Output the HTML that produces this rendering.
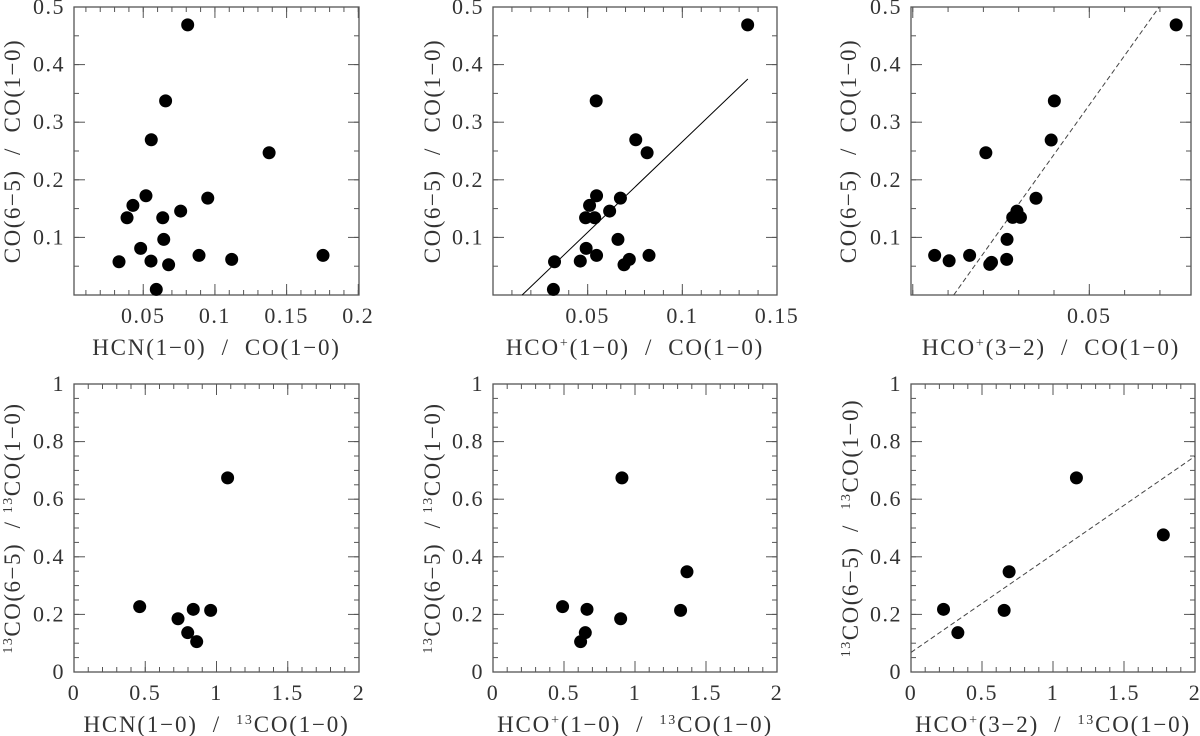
<!DOCTYPE html>
<html><head><meta charset="utf-8"><style>
html,body{margin:0;padding:0;background:#fff;}
svg{display:block;font-family:"Liberation Serif",serif;}
text{white-space:pre;}
</style></head><body>
<svg id="fig" width="1200" height="736" viewBox="0 0 1200 736" xmlns="http://www.w3.org/2000/svg"></svg>
<script>
// Panel 1: HCN/CO vs CO(6-5)/CO(1-0)
const p1x = [0.0810,0.0656,0.0556,0.1378,0.0519,0.0428,0.0950,0.0387,0.0636,0.0761,0.0643,0.0482,0.0331,0.0554,0.0677,0.0889,0.1117,0.1754,0.0591];
const p1y = [0.469,0.337,0.2695,0.247,0.1723,0.1555,0.1682,0.1341,0.1341,0.1457,0.0965,0.0809,0.0577,0.0589,0.0525,0.0687,0.0618,0.0687,0.0097];
// Panel 2: HCO+(1-0)/CO
const p2x = [0.1345,0.0545,0.0754,0.0814,0.0547,0.0510,0.0673,0.0489,0.0537,0.0616,0.0660,0.0492,0.0325,0.0461,0.0692,0.0547,0.0720,0.0824,0.0319];
const p2y = [0.469,0.337,0.2695,0.247,0.1723,0.1555,0.1682,0.1341,0.1341,0.1457,0.0965,0.0809,0.0577,0.0589,0.0525,0.0687,0.0618,0.0687,0.0097];
const p2fitX = [0.0154,0.1346];
const p2fitY = [0.0,0.375];
// Panel 3: HCO+(3-2)/CO
const p3x = [0.0062,0.0103,0.0161,0.0207,0.0218,0.0223,0.0266,0.0267,0.0283,0.0295,0.0305,0.0349,0.0392,0.0401,0.0746];
const p3y = [0.0688,0.0594,0.0688,0.247,0.0531,0.0566,0.0618,0.0965,0.1347,0.1457,0.1347,0.168,0.269,0.337,0.469];
const p3fitX = [0.0116,0.0698];
const p3fitY = [0.0,0.5];
// Panel 4: HCN/13CO
const p4x = [0.461,0.730,0.837,0.959,0.798,0.861,1.078];
const p4y = [0.227,0.185,0.2176,0.214,0.1366,0.1053,0.674];
// Panel 5: HCO+(1-0)/13CO
const p5x = [0.490,0.662,0.650,0.617,0.899,0.908,1.321,1.366];
const p5y = [0.227,0.2176,0.1366,0.1053,0.185,0.674,0.214,0.348];
// Panel 6: HCO+(3-2)/13CO
const p6x = [0.229,0.330,0.656,0.691,1.165,1.777];
const p6y = [0.2176,0.1366,0.214,0.348,0.674,0.476];
const p6fitX = [0.0,2.0];
const p6fitY = [0.068,0.749];
// Tick labels
const topYTicks = ["0.1","0.2","0.3","0.4","0.5"];
const botYTicks = ["0","0.2","0.4","0.6","0.8","1"];
const p1XTicks = ["0.05","0.1","0.15","0.2"];
const p2XTicks = ["0.05","0.1","0.15"];
const p3XTicks = ["0.05"];
const botXTicks = ["0","0.5","1","1.5","2"];

const NS="http://www.w3.org/2000/svg";
const svg=document.getElementById('fig');
const FC="#555", TC="#333";
function mk(tag,attrs,parent){const e=document.createElementNS(NS,tag);for(const k in attrs)e.setAttribute(k,attrs[k]);(parent||svg).appendChild(e);return e;}

function panel(cfg){
  const g=mk('g',{});
  
  
  const L=cfg.box[0],T=cfg.box[1],R=cfg.box[2],B=cfg.box[3];
  const sx=v=>L+(v-cfg.xd[0])/(cfg.xd[1]-cfg.xd[0])*(R-L);
  const sy=v=>B-(v-cfg.yd[0])/(cfg.yd[1]-cfg.yd[0])*(B-T);
  const fr=mk('rect',{x:L,y:T,width:R-L,height:B-T,fill:'none',stroke:FC,'stroke-width':1.3},g);
  
  
  const eps=1e-9;
  function xt(step,len){for(let v=Math.ceil((cfg.xd[0]-eps)/step)*step;v<=cfg.xd[1]+eps;v+=step){const x=sx(v);if(x<L+0.5||x>R-0.5)continue;mk('line',{x1:x,y1:B,x2:x,y2:B-len,stroke:FC,'stroke-width':1},g);mk('line',{x1:x,y1:T,x2:x,y2:T+len,stroke:FC,'stroke-width':1},g);}}
  function yt(step,len){for(let v=Math.ceil((cfg.yd[0]-eps)/step)*step;v<=cfg.yd[1]+eps;v+=step){const y=sy(v);if(y<T+0.5||y>B-0.5)continue;mk('line',{x1:L,y1:y,x2:L+len,y2:y,stroke:FC,'stroke-width':1},g);mk('line',{x1:R,y1:y,x2:R-len,y2:y,stroke:FC,'stroke-width':1},g);}}
  xt(cfg.xminor,5);xt(cfg.xmajor,11);yt(cfg.yminor,5);yt(cfg.ymajor,11);
  cfg.xticks.forEach(s=>{const t=mk('text',{x:sx(parseFloat(s)),y:B+28,'text-anchor':'middle','font-size':22,'letter-spacing':1.5,fill:TC},g);t.textContent=s;
    
    });
  cfg.yticks.forEach(s=>{const t=mk('text',{x:L-9,y:sy(parseFloat(s))+7,'text-anchor':'end','font-size':22,'letter-spacing':1.5,fill:TC},g);t.textContent=s;
    
    });
  if(cfg.fx){const ln=mk('line',{x1:sx(cfg.fx[0]),y1:sy(cfg.fy[0]),x2:sx(cfg.fx[1]),y2:sy(cfg.fy[1]),stroke:cfg.dash?'#444':'#000','stroke-width':1,'stroke-dasharray':cfg.dash?'5,3':'none'},g);
    
    }
  cfg.px.forEach((v,i)=>{const c=mk('circle',{cx:sx(v),cy:sy(cfg.py[i]),r:6.5,fill:'#000'},g);
    
    });
  const xl=mk('text',{x:(L+R)/2,y:B+60,'text-anchor':'middle','font-size':23,'letter-spacing':1.8,fill:TC},g);
  xl.innerHTML=cfg.xlab;
  
  
  const yl=mk('text',{x:0,y:0,'text-anchor':'middle','font-size':23,'letter-spacing':1.5,fill:TC,transform:`translate(${cfg.ylx},${(T+B)/2}) rotate(-90)`},g);
  yl.innerHTML=cfg.ylab;
  
  
}
const sup=s=>`<tspan font-size="14" dy="-8">${s}</tspan><tspan dy="8">`;
const topYL='CO(6−5)  /  CO(1−0)';
const botYL=`${sup('13')}CO(6−5)</tspan>  / ${sup('13')}CO(1−0)</tspan>`;
panel({name:'panel-hcn-co',box:[74,7,359,295],xd:[0.0017,0.2005],yd:[0,0.5],xminor:0.01,xmajor:0.05,yminor:0.05,ymajor:0.1,xticks:p1XTicks,yticks:topYTicks,px:p1x,py:p1y,xlab:'HCN(1−0)  /  CO(1−0)',ylab:topYL,ylx:20});
panel({name:'panel-hcop10-co',box:[493,7,777,295],xd:[0,0.15],yd:[0,0.5],xminor:0.01,xmajor:0.05,yminor:0.05,ymajor:0.1,xticks:p2XTicks,yticks:topYTicks,px:p2x,py:p2y,fx:p2fitX,fy:p2fitY,xlab:`HCO${sup('+')}(1−0)</tspan>  /  CO(1−0)`,ylab:topYL,ylx:440});
panel({name:'panel-hcop32-co',box:[911,7,1191,295],xd:[-0.0005,0.0788],yd:[0,0.5],xminor:0.01,xmajor:0.05,yminor:0.05,ymajor:0.1,xticks:p3XTicks,yticks:topYTicks,px:p3x,py:p3y,fx:p3fitX,fy:p3fitY,dash:true,xlab:`HCO${sup('+')}(3−2)</tspan>  /  CO(1−0)`,ylab:topYL,ylx:856});
panel({name:'panel-hcn-13co',box:[74,384,359,672],xd:[0,2],yd:[0,1],xminor:0.1,xmajor:0.5,yminor:0.05,ymajor:0.2,xticks:botXTicks,yticks:botYTicks,px:p4x,py:p4y,xlab:`HCN(1−0)  /  ${sup('13')}CO(1−0)</tspan>`,ylab:botYL,ylx:20});
panel({name:'panel-hcop10-13co',box:[493,384,777,672],xd:[0,2],yd:[0,1],xminor:0.1,xmajor:0.5,yminor:0.05,ymajor:0.2,xticks:botXTicks,yticks:botYTicks,px:p5x,py:p5y,xlab:`HCO${sup('+')}(1−0)</tspan>  /  ${sup('13')}CO(1−0)</tspan>`,ylab:botYL,ylx:440});
panel({name:'panel-hcop32-13co',box:[911,384,1195,672],xd:[0,2],yd:[0,1],xminor:0.1,xmajor:0.5,yminor:0.05,ymajor:0.2,xticks:botXTicks,yticks:botYTicks,px:p6x,py:p6y,fx:p6fitX,fy:p6fitY,dash:true,xlab:`HCO${sup('+')}(3−2)</tspan>  /  ${sup('13')}CO(1−0)</tspan>`,ylab:`${sup('13')}CO(6−5)</tspan>  /  ${sup('13')}CO(1−0)</tspan>`,ylx:858});
</script>
</body></html>
